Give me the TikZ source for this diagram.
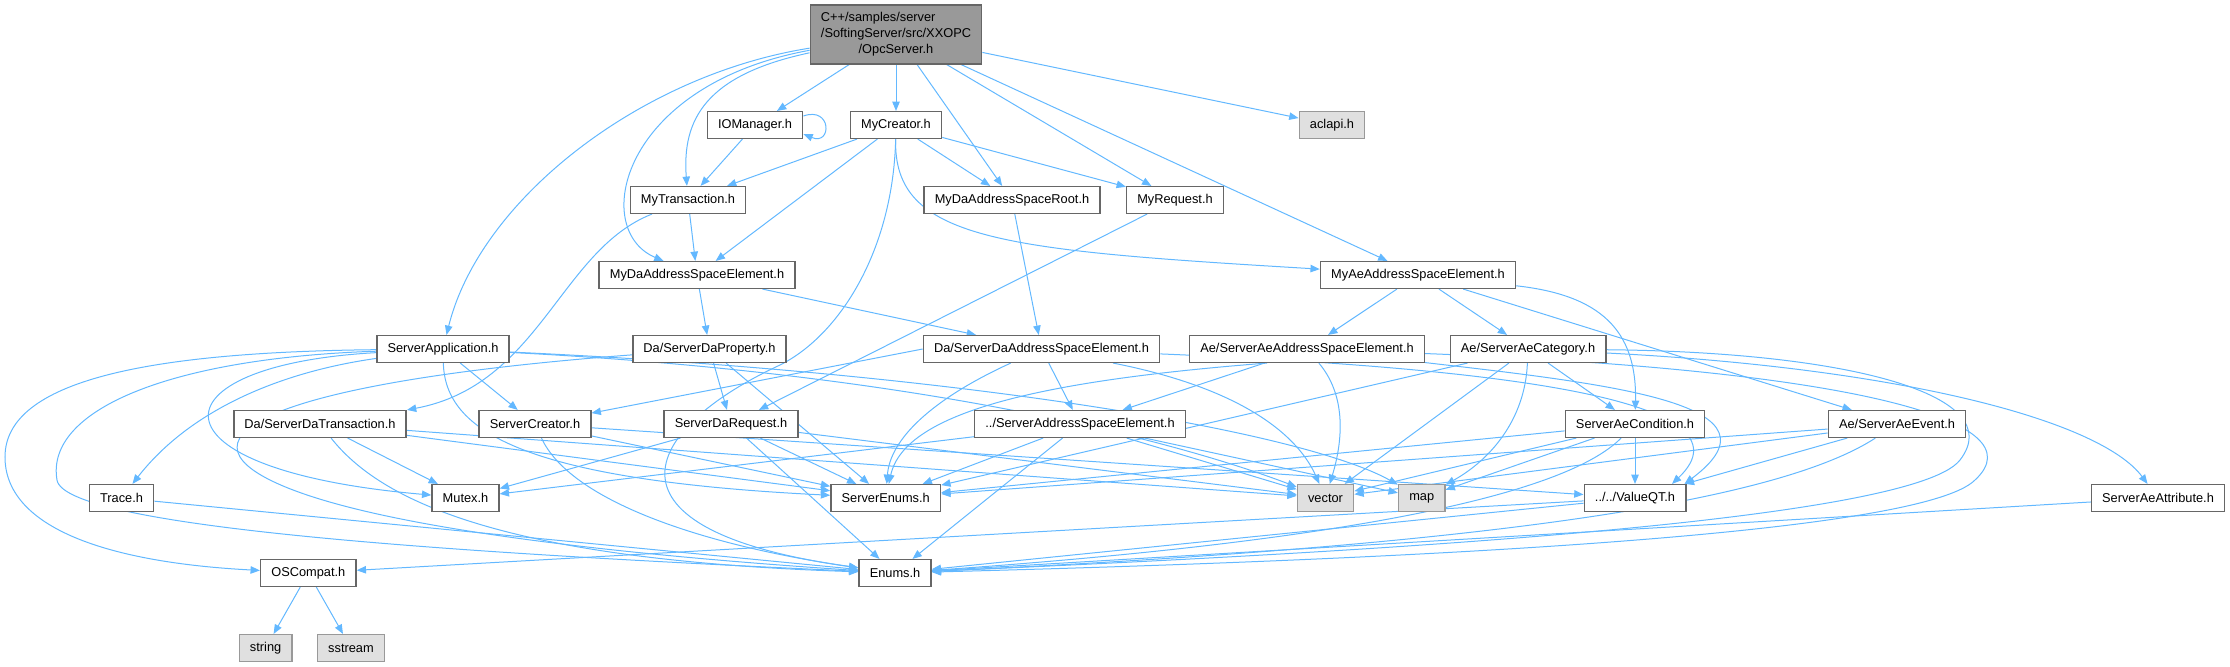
\documentclass[tikz,border=0pt]{standalone}
\usepackage{fontspec}
\setmainfont{Liberation Sans}
\usetikzlibrary{arrows.meta,backgrounds,calc}
\definecolor{edgeblue}{RGB}{99,184,255}
\definecolor{boxline}{RGB}{102,102,102}
\definecolor{rootfill}{RGB}{153,153,153}
\definecolor{sysfill}{RGB}{224,224,224}
\definecolor{sysline}{RGB}{153,153,153}
\tikzset{
  fnode/.style={draw=boxline, fill=white, line width=1.1pt, inner xsep=8pt, inner ysep=2pt,
    minimum height=20pt, font=\fontsize{9.6}{12}\selectfont},
  sysnode/.style={fnode, draw=sysline, fill=sysfill},
  rootnode/.style={fnode, fill=rootfill, minimum height=44pt},
  dep/.style={draw=edgeblue, line width=0.75pt, -{Triangle[length=7pt,width=5.6pt]}},
}

\begin{document}
\begin{tikzpicture}[x=0.75pt,y=-0.75pt]
    \useasboundingbox (0,0) rectangle (2230,667);

    % 绘制节点（第一层）
    \node[rootnode] (opc) at (896,34.5) {\begin{tabular}{@{}l@{}}C++/samples/server\\/SoftingServer/src/XXOPC\\\multicolumn{1}{@{}c@{}}{/OpcServer.h}\end{tabular}};

    % 第二、三、四层
    \node[fnode] (ioman) at (755,125) {IOManager.h};
    \node[fnode] (mycreator) at (896,125) {MyCreator.h};
    \node[sysnode] (aclapi) at (1332,125) {aclapi.h};
    \node[fnode] (mytrans) at (688,200) {MyTransaction.h};
    \node[fnode] (myroot) at (1012,200) {MyDaAddressSpaceRoot.h};
    \node[fnode] (myreq) at (1175,200) {MyRequest.h};
    \node[fnode] (mydaase) at (697,275) {MyDaAddressSpaceElement.h};
    \node[fnode] (myaese) at (1418,275) {MyAeAddressSpaceElement.h};

    % 服务器头文件
    \node[fnode] (srvapp) at (443,349) {ServerApplication.h};
    \node[fnode] (daprop) at (709.5,349) {Da/ServerDaProperty.h};
    \node[fnode] (dasase) at (1041.5,349) {Da/ServerDaAddressSpaceElement.h};
    \node[fnode] (aesase) at (1307,349) {Ae/ServerAeAddressSpaceElement.h};
    \node[fnode] (aecat) at (1528,349) {Ae/ServerAeCategory.h};
    \node[fnode] (dastrans) at (320,424) {Da/ServerDaTransaction.h};
    \node[fnode] (srvcreator) at (535,424) {ServerCreator.h};
    \node[fnode] (dareq) at (731,424) {ServerDaRequest.h};
    \node[fnode] (srvase) at (1080,424) {../ServerAddressSpaceElement.h};
    \node[fnode] (aecond) at (1635,424) {ServerAeCondition.h};
    \node[fnode] (aeevent) at (1897,424) {Ae/ServerAeEvent.h};

    % 底层头文件
    \node[fnode] (trace) at (121.5,498) {Trace.h};
    \node[fnode] (mutex) at (465.5,498) {Mutex.h};
    \node[fnode] (srvenums) at (885.7,498) {ServerEnums.h};
    \node[sysnode] (vector) at (1325.5,498) {vector};
    \node[sysnode] (map) at (1421.7,498) {map};
    \node[fnode] (valueqt) at (1635,498) {../../ValueQT.h};
    \node[fnode] (aeattr) at (2158,498) {ServerAeAttribute.h};
    \node[fnode] (oscompat) at (308.3,573) {OSCompat.h};
    \node[fnode] (enums) at (895,573) {Enums.h};
    \node[sysnode] (string) at (265.6,648) {string};
    \node[sysnode] (sstream) at (351,648) {sstream};

    \begin{scope}[on background layer]
    % OpcServer.h 的包含关系
    \draw[dep] (opc) -- (ioman);
    \draw[dep] (opc) -- (mycreator);
    \draw[dep] (opc) -- (myroot);
    \draw[dep] (opc) -- (myreq);
    \draw[dep] (opc) -- (myaese);
    \draw[dep] (opc) -- (aclapi);
    \draw[dep] (opc) .. controls (705,75) and (682,120) .. (mytrans);
    \draw[dep] (opc) .. controls (620,85) and (590,230) .. (mydaase);
    \draw[dep] (opc) .. controls (640,75) and (480,200) .. (srvapp);

    % IOManager.h 与 MyCreator.h
    \draw[dep] ($(ioman.east)+(0,-9)$) .. controls (832,106) and (832,146) .. ($(ioman.east)+(0,9)$);
    \draw[dep] (ioman) -- (mytrans);
    \draw[dep] (mycreator) -- (mytrans);
    \draw[dep] (mycreator) -- (mydaase);
    \draw[dep] (mycreator) -- (myroot);
    \draw[dep] (mycreator) -- (myreq);
    \draw[dep] (mycreator) .. controls (893,240) and (1000,250) .. (myaese);
    \draw[dep] (mycreator) .. controls (893,250) and (840,335) .. (780,365) .. controls (640,430) and (590,530) .. (enums);

    % My* 头文件
    \draw[dep] (mytrans) -- (mydaase);
    \draw[dep] (mytrans) .. controls (560,250) and (540,385) .. (dastrans.north east);
    \draw[dep] (myroot) -- (dasase);
    \draw[dep] (myreq) -- (dareq);
    \draw[dep] (mydaase) -- (daprop);
    \draw[dep] (mydaase) -- (dasase);
    \draw[dep] (myaese) -- (aesase);
    \draw[dep] (myaese) -- (aecat);
    \draw[dep] (myaese) -- (aeevent);
    \draw[dep] (myaese) .. controls (1600,295) and (1637,330) .. (aecond);

    % ServerApplication.h
    \draw[dep] (srvapp) -- (srvcreator);
    \draw[dep] (srvapp) .. controls (280,372) and (190,410) .. (trace);
    \draw[dep] (srvapp) .. controls (150,365) and (140,470) .. (mutex);
    \draw[dep] (srvapp) .. controls (150,352) and (5,380) .. (5,457) .. controls (5,525) and (100,562) .. (oscompat);
    \draw[dep] (srvapp) .. controls (170,358) and (45,410) .. (57,480) .. controls (65,530) and (500,555) .. (enums);
    \draw[dep] (srvapp) .. controls (445,430) and (520,480) .. (srvenums);
    \draw[dep] (srvapp) .. controls (950,375) and (1200,450) .. (vector);
    \draw[dep] (srvapp) .. controls (950,372) and (1300,430) .. (map);

    % Da/ServerDaProperty.h
    \draw[dep] (daprop) -- (dareq);
    \draw[dep] (daprop) -- (srvenums);
    \draw[dep] (daprop) .. controls (300,380) and (170,430) .. (270,480) .. controls (380,535) and (700,560) .. (enums);

    % Da/ServerDaAddressSpaceElement.h
    \draw[dep] (dasase) -- (srvase);
    \draw[dep] (dasase.west) -- (srvcreator);
    \draw[dep] (dasase) .. controls (930,400) and (890,440) .. (srvenums);
    \draw[dep] (dasase) .. controls (1250,390) and (1300,440) .. (vector);
    \draw[dep] (dasase) .. controls (1500,368) and (1760,400) .. ($(valueqt.north)+(37,0)$);

    % Ae/ServerAeAddressSpaceElement.h
    \draw[dep] (aesase) -- (srvase);
    \draw[dep] ($(aesase.south)+(-40,0)$) .. controls (1050,380) and (905,410) .. (srvenums);
    \draw[dep] (aesase) .. controls (1350,400) and (1340,450) .. (vector);
    \draw[dep] (aesase) .. controls (1620,385) and (1790,405) .. ($(valueqt.north east)+(-2,0)$);
    \draw[dep] (aesase) .. controls (1850,370) and (2040,420) .. (1975,480) .. controls (1920,535) and (1400,560) .. (enums);

    % Ae/ServerAeCategory.h
    \draw[dep] (aecat) -- (aecond);
    \draw[dep] (aecat) -- (vector);
    \draw[dep] (aecat) .. controls (1525,420) and (1490,460) .. (map);
    \draw[dep] (aecat) -- (srvenums);
    \draw[dep] (aecat) .. controls (1900,368) and (2100,420) .. (aeattr);
    \draw[dep] (aecat) .. controls (1850,352) and (2010,395) .. (1960,460) .. controls (1910,525) and (1300,555) .. (enums);

    % 第五层
    \draw[dep] (dastrans) -- (mutex);
    \draw[dep] (dastrans) -- (srvenums);
    \draw[dep] (dastrans) -- (vector);
    \draw[dep] (dastrans) .. controls (380,500) and (500,560) .. (enums);
    \draw[dep] (srvcreator) -- (srvenums);
    \draw[dep] (srvcreator) -- (valueqt);
    \draw[dep] (srvcreator) .. controls (570,500) and (700,545) .. (enums);
    \draw[dep] (dareq) -- (mutex);
    \draw[dep] (dareq) -- (srvenums);
    \draw[dep] (dareq) -- (enums);
    \draw[dep] (dareq) -- (vector);
    \draw[dep] (srvase) -- (mutex);
    \draw[dep] (srvase) -- (srvenums);
    \draw[dep] (srvase) -- (enums);
    \draw[dep] (srvase) -- (vector);
    \draw[dep] (srvase) -- (map);
    \draw[dep] (aecond) -- (valueqt);
    \draw[dep] (aecond) -- (srvenums);
    \draw[dep] (aecond) -- (vector);
    \draw[dep] (aecond) -- (map);
    \draw[dep] (aecond) .. controls (1540,520) and (1150,555) .. (enums);
    \draw[dep] (aeevent) -- (valueqt);
    \draw[dep] (aeevent) -- (vector);
    \draw[dep] (aeevent) -- (srvenums);
    \draw[dep] (aeevent) .. controls (1780,500) and (1500,545) .. (enums);

    % 底层
    \draw[dep] (trace) -- (enums);
    \draw[dep] (aeattr) -- (enums);
    \draw[dep] (valueqt) -- (enums);
    \draw[dep] (valueqt) -- (oscompat);
    \draw[dep] (oscompat) -- (string);
    \draw[dep] (oscompat) -- (sstream);
    \end{scope}
\end{tikzpicture}
\end{document}
